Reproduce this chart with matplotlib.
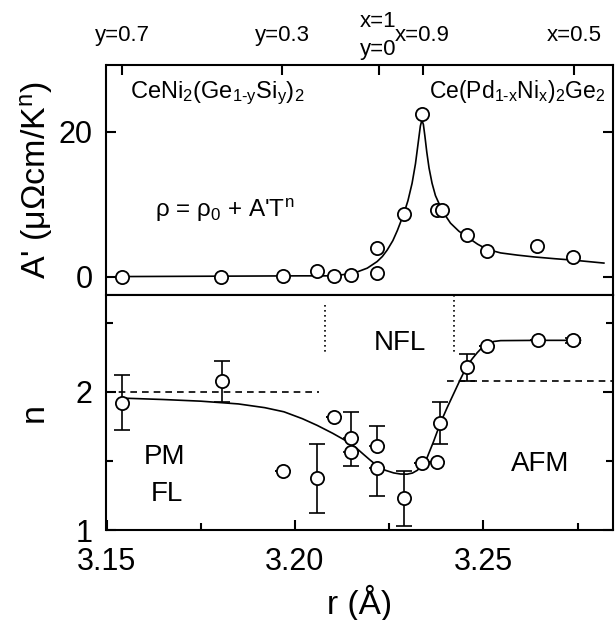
import matplotlib
matplotlib.use("Agg")
import matplotlib.pyplot as plt
from matplotlib.ticker import FixedLocator

plt.rcParams['font.family'] = ['Liberation Sans', 'DejaVu Sans']
plt.rcParams['mathtext.fontset'] = 'custom'
plt.rcParams['mathtext.rm'] = 'Liberation Sans'
plt.rcParams['mathtext.it'] = 'Liberation Sans'
plt.rcParams['mathtext.default'] = 'regular'

# ---------------- data ----------------
# top panel: A' vs r
r_A = [3.1542, 3.1804, 3.1969, 3.2059, 3.2103, 3.2148, 3.2217, 3.2217,
       3.2289, 3.2338, 3.2376, 3.2391, 3.2457, 3.2510, 3.2643, 3.2739]
A_vals = [0.0, 0.0, 0.1, 0.8, 0.1, 0.3, 0.5, 4.0,
          8.6, 22.5, 9.2, 9.2, 5.8, 3.6, 4.2, 2.7]
# fitted curve
r_A_fit = [3.1542, 3.2015, 3.2103, 3.2156, 3.2192, 3.2218, 3.2232, 3.2245,
           3.2260, 3.2272, 3.2289, 3.2300, 3.2311, 3.2320, 3.2328, 3.2333,
           3.2337, 3.2341, 3.2345, 3.2350, 3.2356, 3.2364, 3.2373, 3.2386,
           3.2400, 3.2413, 3.2435, 3.2457, 3.2485, 3.2510, 3.2546, 3.2590,
           3.2634, 3.2690, 3.2740, 3.2820]
A_fit = [0.04, 0.14, 0.14, 0.5, 1.2, 2.1, 2.8, 3.7,
         5.0, 6.4, 8.7, 10.5, 12.9, 15.6, 18.8, 20.8,
         21.6, 21.0, 19.4, 17.2, 15.0, 12.9, 11.2, 9.7,
         8.4, 7.4, 6.3, 5.5, 4.5, 3.8, 3.3, 3.0,
         2.75, 2.5, 2.3, 1.9]

# bottom panel: n vs r (with lower / upper error bars)
r_n = [3.1542, 3.1807, 3.1969, 3.2059, 3.2103, 3.2149, 3.2149, 3.2218,
       3.2218, 3.2289, 3.2336, 3.2378, 3.2386, 3.2457, 3.2510, 3.2646, 3.2739]
n_vals = [1.92, 2.075, 1.43, 1.375, 1.82, 1.665, 1.563, 1.61,
          1.447, 1.23, 1.488, 1.495, 1.773, 2.176, 2.333, 2.372, 2.372]
n_err_lo = [0.20, 0.15, 0.0, 0.25, 0.0, 0.0, 0.10, 0.0,
            0.20, 0.20, 0.0, 0.0, 0.15, 0.10, 0.0, 0.0, 0.02]
n_err_hi = [0.20, 0.15, 0.0, 0.25, 0.0, 0.19, 0.0, 0.14,
            0.0, 0.20, 0.0, 0.0, 0.15, 0.10, 0.0, 0.0, 0.02]
r_n_fit = [3.1542, 3.1650, 3.1750, 3.1850, 3.1920, 3.1971, 3.2020, 3.2059,
           3.2100, 3.2139, 3.2160, 3.2183, 3.2200, 3.2218, 3.2240, 3.2262,
           3.2280, 3.2298, 3.2312, 3.2325, 3.2338, 3.2351, 3.2368, 3.2386,
           3.2404, 3.2422, 3.2440, 3.2457, 3.2471, 3.2484, 3.2497, 3.2510,
           3.2528, 3.2546, 3.2650, 3.2758]
n_fit = [1.954, 1.944, 1.932, 1.912, 1.885, 1.855, 1.805, 1.757,
         1.700, 1.640, 1.600, 1.545, 1.505, 1.465, 1.432, 1.413,
         1.405, 1.404, 1.412, 1.432, 1.468, 1.525, 1.640, 1.773,
         1.885, 1.990, 2.095, 2.188, 2.240, 2.283, 2.320, 2.345,
         2.364, 2.370, 2.372, 2.372]

# reference lines
dash_left_r = [3.15, 3.2063]
dash_left_n = [2.0, 2.0]
dash_right_r = [3.2404, 3.2845]
dash_right_n = [2.08, 2.08]
dot1_r = [3.2079, 3.2079]
dot1_n = [2.63, 2.285]
dot2_r = [3.2422, 3.2422]
dot2_n = [2.70, 2.29]

# top axis composition labels
top_tick_pos = [3.1542, 3.1967, 3.2222, 3.2339, 3.2742]
top_tick_labels = ['y=0.7', 'y=0.3', 'x=1\ny=0', 'x=0.9', 'x=0.5']

xlim = (3.15, 3.2845)

# ---------------- figure ----------------
W, H = 615, 620
fig = plt.figure(figsize=(W / 100, H / 100), dpi=100)
L, R = 106.5, 613.3
T1, MID, B2 = 65, 295, 530
ax1 = fig.add_axes([L / W, 1 - MID / H, (R - L) / W, (MID - T1) / H])
ax2 = fig.add_axes([L / W, 1 - B2 / H, (R - L) / W, (B2 - MID) / H])

mk = dict(marker='o', markersize=9.5, markerfacecolor='white',
          markeredgecolor='black', markeredgewidth=1.3, linestyle='none', zorder=3)

for ax in (ax1, ax2):
    for s in ax.spines.values():
        s.set_linewidth(1.5)
    ax.set_xlim(*xlim)

# top panel
ax1.plot(r_A_fit, A_fit, color='black', lw=1.2, zorder=2)
ax1.plot(r_A, A_vals, **mk)
ax1.set_ylim(-2.5, 29.2)
ax1.set_yticks([0, 20])
ax1.set_yticklabels(['0', '20'])
ax1.xaxis.tick_top()
ax1.set_xticks(top_tick_pos)
ax1.set_xticklabels(top_tick_labels, fontsize=16, linespacing=1.45)
ax1.tick_params(axis='x', which='major', direction='in', length=7, width=1.5,
                pad=21, top=True, bottom=False)
ax1.tick_params(axis='y', which='major', direction='in', length=7, width=1.5,
                labelsize=22, left=True, right=True, pad=10)
for lbl in ax1.get_xticklabels():
    lbl.set_va('center')
ax1.set_ylabel("A' (\u03bc\u03a9cm/K$^{n}$)", fontsize=24.5)
ax1.yaxis.set_label_coords(-0.102, 0.5)

ax1.text(3.1562, 24.7, r'CeNi$_2$(Ge$_{1\text{-}y}$Si$_y$)$_2$', fontsize=17,
         va='baseline', ha='left')
ax1.text(3.2356, 24.7, r'Ce(Pd$_{1\text{-}x}$Ni$_x$)$_2$Ge$_2$', fontsize=16.5,
         va='baseline', ha='left')
ax1.text(3.1629, 8.3, "\u03c1 = \u03c1$_0$ + A'T$^n$", fontsize=17.5,
         va='baseline', ha='left')

# bottom panel
ax2.plot(r_n_fit, n_fit, color='black', lw=1.2, zorder=2)
ax2.errorbar(r_n, n_vals, yerr=[n_err_lo, n_err_hi], fmt='none', ecolor='black',
             elinewidth=1.2, capsize=5.5, capthick=1.2, zorder=2)
ax2.plot(r_n, n_vals, **mk)
ax2.plot(dash_left_r, dash_left_n, color='black', lw=1.2, ls=(0, (4, 3)))
ax2.plot(dash_right_r, dash_right_n, color='black', lw=1.2, ls=(0, (4, 3)))
ax2.plot(dot1_r, dot1_n, color='black', lw=1.2, ls=(0, (1, 2)))
ax2.plot(dot2_r, dot2_n, color='black', lw=1.2, ls=(0, (1, 2)))
ax2.set_ylim(1, 2.7)
ax2.set_yticks([1, 2])
ax2.set_yticklabels(['1', '2'])
ax2.yaxis.set_minor_locator(FixedLocator([1.5, 2.5]))
ax2.set_xticks([3.15, 3.20, 3.25])
ax2.set_xticklabels(['3.15', '3.20', '3.25'])
ax2.xaxis.set_minor_locator(FixedLocator([3.175, 3.225, 3.275]))
ax2.tick_params(axis='both', which='major', direction='in', length=7, width=1.5,
                labelsize=22, left=True, right=True, top=False, bottom=True)
ax2.tick_params(axis='both', which='minor', direction='in', length=5, width=1.5,
                left=True, right=True, top=False, bottom=True)
ax2.tick_params(axis='x', pad=12)
ax2.tick_params(axis='y', pad=10)
ax2.set_ylabel('n', fontsize=24.5)
ax2.yaxis.set_label_coords(-0.112, 0.5)
ax2.set_xlabel('r (\u00c5)', fontsize=24, labelpad=6)

ax2.text(3.2279, 2.354, 'NFL', fontsize=20, ha='center', va='center')
ax2.text(3.1655, 1.53, 'PM', fontsize=20, ha='center', va='center')
ax2.text(3.1660, 1.26, 'FL', fontsize=20, ha='center', va='center')
ax2.text(3.2650, 1.478, 'AFM', fontsize=20, ha='center', va='center')

fig.savefig('out.png', dpi=100)
